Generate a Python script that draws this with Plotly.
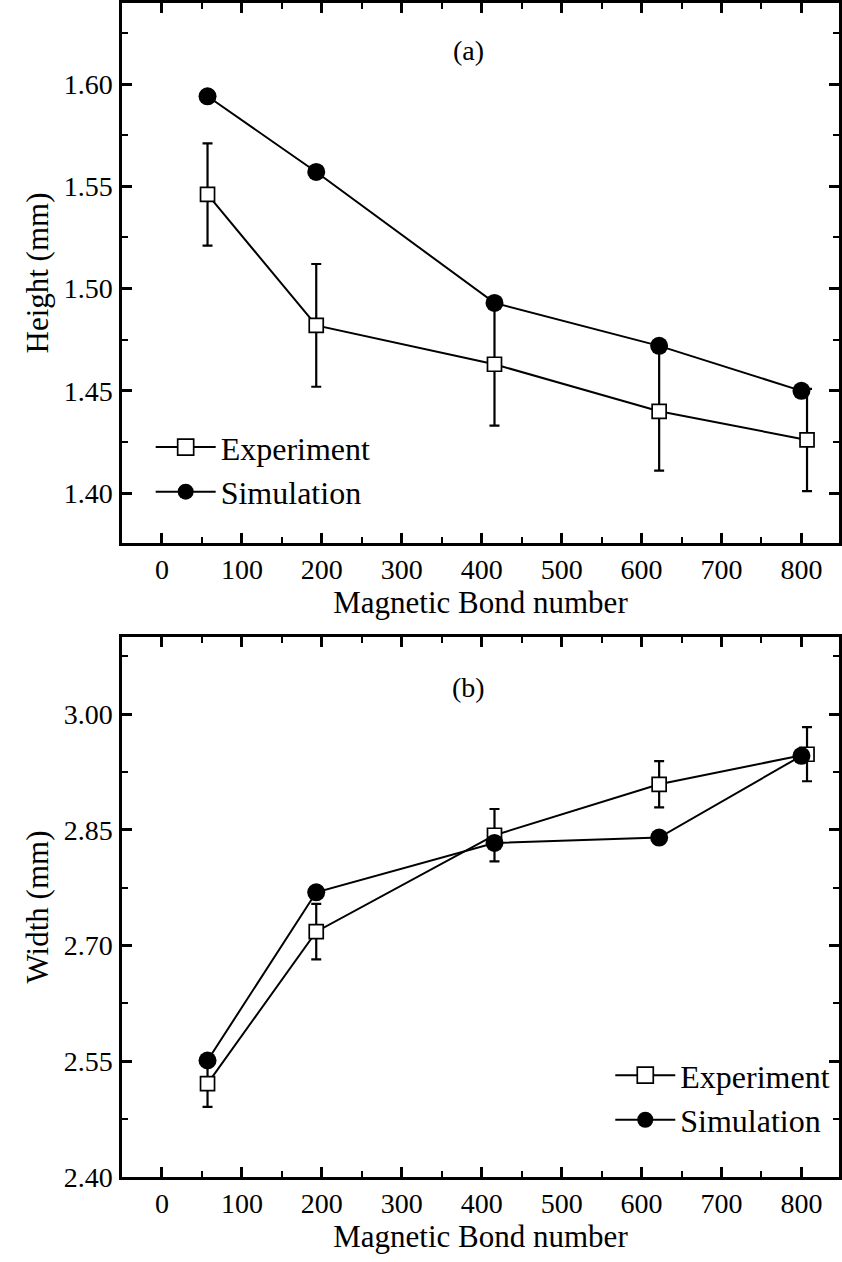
import plotly.graph_objects as go
from plotly.subplots import make_subplots

# ---- data ----
x_exp = [57, 193, 416, 622, 807]
x_sim = [57, 193, 416, 622, 800]

height_exp = [1.546, 1.482, 1.463, 1.440, 1.426]
height_err = [0.025, 0.030, 0.030, 0.029, 0.025]
height_sim = [1.594, 1.557, 1.493, 1.472, 1.450]

width_exp = [2.521, 2.718, 2.843, 2.909, 2.948]
width_err = [0.030, 0.036, 0.034, 0.030, 0.035]
width_sim = [2.551, 2.769, 2.833, 2.840, 2.946]

x_ticks = [0, 100, 200, 300, 400, 500, 600, 700, 800]
h_ticks = [1.40, 1.45, 1.50, 1.55, 1.60]
w_ticks = [2.40, 2.55, 2.70, 2.85, 3.00]

FONT = "Liberation Serif, Times New Roman, serif"

fig = make_subplots(rows=2, cols=1, vertical_spacing=0.08)

def add_panel(row, yexp, yerr, ysim, legend):
    fig.add_trace(go.Scatter(
        x=x_exp, y=yexp, mode="lines+markers", name="Experiment",
        line=dict(color="black", width=2),
        marker=dict(symbol="square", size=14, color="white",
                    line=dict(color="black", width=1.7)),
        error_y=dict(type="data", array=yerr, color="black", thickness=2.2, width=5),
        showlegend=False), row=row, col=1)
    fig.add_trace(go.Scatter(
        x=x_sim, y=ysim, mode="lines+markers", name="Simulation",
        line=dict(color="black", width=2),
        marker=dict(symbol="circle", size=18, color="black"),
        showlegend=False), row=row, col=1)
    # legend entries
    fig.add_trace(go.Scatter(
        x=[None], y=[None], mode="lines+markers", name="Experiment",
        line=dict(color="black", width=2),
        marker=dict(symbol="square", size=22, color="white",
                    line=dict(color="black", width=1.7)),
        legend=legend), row=row, col=1)
    fig.add_trace(go.Scatter(
        x=[None], y=[None], mode="lines+markers", name="Simulation",
        line=dict(color="black", width=2),
        marker=dict(symbol="circle", size=26, color="black"),
        legend=legend), row=row, col=1)

add_panel(1, height_exp, height_err, height_sim, "legend")
add_panel(2, width_exp, width_err, width_sim, "legend2")

axis_common = dict(
    showline=True, linecolor="black", linewidth=2.5, mirror="ticks",
    ticks="inside", ticklen=10, tickwidth=2.5, tickcolor="black",
    showgrid=False, zeroline=False,
    tickfont=dict(family=FONT, size=28, color="black"),
    title_font=dict(family=FONT, size=31, color="black"),
)

for r in (1, 2):
    fig.update_xaxes(
        range=[-50, 847], tickvals=x_ticks, ticktext=[str(v) for v in x_ticks],
        minor=dict(ticks="inside", ticklen=6, tickwidth=2, tickcolor="black", dtick=50, tick0=0),
        title_text="Magnetic Bond number", title_standoff=4,
        row=r, col=1, **axis_common)

fig.update_yaxes(
    range=[1.3756, 1.6396], tickvals=h_ticks, ticktext=[f"{v:.2f}" for v in h_ticks],
    minor=dict(ticks="inside", ticklen=6, tickwidth=2, tickcolor="black", dtick=0.025, tick0=1.40),
    title_text="Height (mm)", title_standoff=6, ticklabelstandoff=1,
    row=1, col=1, **axis_common)
fig.update_yaxes(
    range=[2.40, 3.10], tickvals=w_ticks, ticktext=[f"{v:.2f}" for v in w_ticks],
    minor=dict(ticks="inside", ticklen=6, tickwidth=2, tickcolor="black", dtick=0.075, tick0=2.40),
    title_text="Width (mm)", title_standoff=6, ticklabelstandoff=1,
    row=2, col=1, **axis_common)

fig.update_xaxes(domain=[0, 1])
fig.update_yaxes(domain=[0.5400, 1.0], row=1, col=1)
fig.update_yaxes(domain=[0.0, 0.4600], row=2, col=1)

fig.add_annotation(text="(a)", xref="x domain", yref="y domain", x=0.483, y=0.945,
                   showarrow=False, font=dict(family=FONT, size=28, color="black"))
fig.add_annotation(text="(b)", xref="x2 domain", yref="y2 domain", x=0.483, y=0.938,
                   showarrow=False, font=dict(family=FONT, size=28, color="black"))

legend_common = dict(font=dict(family=FONT, size=32, color="black"),
                     bgcolor="rgba(0,0,0,0)", itemwidth=60, tracegroupgap=0,
                     xanchor="left", yanchor="top")

fig.update_layout(
    width=842, height=1262,
    margin=dict(l=122, r=0, t=3, b=85),
    plot_bgcolor="white", paper_bgcolor="white",
    font=dict(family=FONT, color="black"),
    legend=dict(x=0.04, y=0.645, **legend_common),
    legend2=dict(x=0.681, y=0.11, **legend_common),
)

fig.write_html("out.html")
